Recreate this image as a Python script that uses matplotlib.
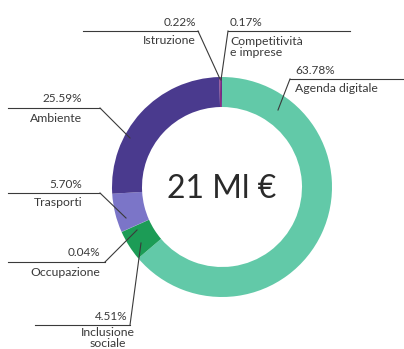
import matplotlib
matplotlib.use("Agg")
import matplotlib.pyplot as plt

# shares of the 21 Ml € budget, clockwise from 12 o'clock
sectors = ["Agenda digitale", "Inclusione\nsociale", "Occupazione", "Trasporti",
           "Ambiente", "Istruzione", "Competitività\ne imprese"]
shares = [63.78, 4.51, 0.04, 5.70, 25.59, 0.22, 0.17]
pct_labels = ["63.78%", "4.51%", "0.04%", "5.70%", "25.59%", "0.22%", "0.17%"]
total_label = "21 Ml €"

COLORS = ["#62c9a8", "#1c9c56", "#2f9a70", "#7b75c8", "#4a3a8e", "#8c2d7e", "#6b2c8a"]
W, H = 404, 349
INK = "#3a3a3a"

plt.rcParams["font.family"] = ["Lato", "DejaVu Sans"]
fig = plt.figure(figsize=(W / 100, H / 100), dpi=100)
ax = fig.add_axes([0, 0, 1, 1])


def py(y):  # pixel row -> data y
    return H - y


cx, cy, R = 222, 187, 110
ax.pie(shares, colors=COLORS, startangle=90, counterclock=False, radius=R,
       center=(cx, py(cy)), wedgeprops=dict(width=30, linewidth=0), frame=True)
ax.set_xlim(0, W); ax.set_ylim(0, H); ax.set_aspect("equal"); ax.axis("off")

ax.text(cx, py(189), total_label, ha="center", va="center", fontsize=23,
        fontweight="normal", color="#2a2a2a")

# callouts: (pct pos, line x0, x1, line y, leader end, name pos, align)
callouts = {
    "Istruzione": ((196, 22), 83, 198, 31, (220, 79), (196, 41), "right"),
    "Competitività\ne imprese": ((230, 22), 228, 350, 31, (221, 80), (230, 47), "left"),
    "Agenda digitale": ((295, 70), 290, 404, 79, (278, 110), (295, 89), "left"),
    "Ambiente": ((82, 99), 8, 100, 108, (130, 138), (82, 118), "right"),
    "Trasporti": ((82, 185), 8, 100, 193, (126, 218), (82, 203), "right"),
    "Occupazione": ((100, 253), 8, 105, 262, (137, 230), (100, 272), "right"),
    "Inclusione\nsociale": ((128, 317), 35, 130, 325, (141, 243), (108, 338), "center"),
}

for name, pct in zip(sectors, pct_labels):
    (px, pyy), x0, x1, ly, (ex, ey), (nx, ny), al = callouts[name]
    ax.text(px, py(pyy), pct, ha="right" if al != "left" else "left", va="center",
            fontsize=8.5, color=INK)
    ax.plot([x0, x1], [py(ly), py(ly)], color=INK, lw=0.8)
    lx = x1 if al != "left" else x0
    ax.plot([lx, ex], [py(ly), py(ey)], color=INK, lw=0.8)
    ax.text(nx, py(ny), name, ha=al, va="center", fontsize=8.8, color=INK, linespacing=0.9)

fig.savefig("out.png", dpi=100)
